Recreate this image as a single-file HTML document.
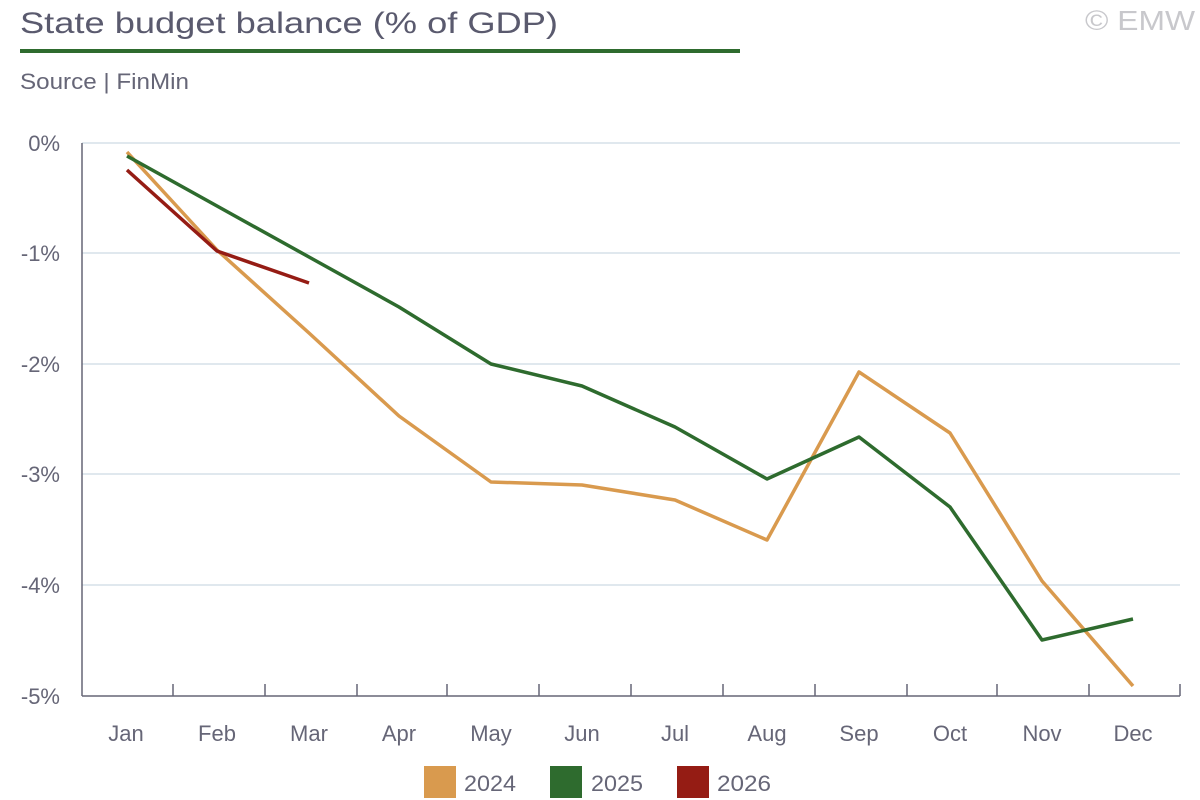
<!DOCTYPE html>
<html><head><meta charset="utf-8"><style>
body{margin:0;background:#fff;}
svg{display:block;font-family:"Liberation Sans",sans-serif;}
</style></head><body>
<svg width="1200" height="800" xmlns="http://www.w3.org/2000/svg">
<text x="20" y="33" font-size="30" fill="#5a5a6e" textLength="538" lengthAdjust="spacingAndGlyphs">State budget balance (% of GDP)</text>
<text x="1085" y="30" font-size="28" fill="#c8c8cc" textLength="110" lengthAdjust="spacingAndGlyphs">© EMW</text>
<rect x="20" y="49" width="720" height="4" fill="#2e6b2e"/>
<text x="20" y="89" font-size="22" fill="#666677" textLength="169" lengthAdjust="spacingAndGlyphs">Source | FinMin</text>
<g stroke="#d5e0e8" stroke-width="1.5">
<line x1="82" y1="143" x2="1180" y2="143"/>
<line x1="82" y1="253" x2="1180" y2="253"/>
<line x1="82" y1="364" x2="1180" y2="364"/>
<line x1="82" y1="474" x2="1180" y2="474"/>
<line x1="82" y1="585" x2="1180" y2="585"/>
</g>
<g stroke="#666677" stroke-width="1.5">
<line x1="82" y1="143" x2="82" y2="696"/>
<line x1="82" y1="696" x2="1180" y2="696"/>
<line x1="173" y1="684" x2="173" y2="696"/><line x1="265" y1="684" x2="265" y2="696"/><line x1="357" y1="684" x2="357" y2="696"/><line x1="447" y1="684" x2="447" y2="696"/><line x1="539" y1="684" x2="539" y2="696"/><line x1="631" y1="684" x2="631" y2="696"/><line x1="723" y1="684" x2="723" y2="696"/><line x1="815" y1="684" x2="815" y2="696"/><line x1="907" y1="684" x2="907" y2="696"/><line x1="997" y1="684" x2="997" y2="696"/><line x1="1089" y1="684" x2="1089" y2="696"/><line x1="1180" y1="684" x2="1180" y2="696"/>
</g>
<g font-size="22" fill="#666677" text-anchor="end">
<text x="60" y="151">0%</text><text x="60" y="261">-1%</text><text x="60" y="372">-2%</text><text x="60" y="482">-3%</text><text x="60" y="593">-4%</text><text x="60" y="704">-5%</text>
</g>
<g font-size="22" fill="#666677" text-anchor="middle">
<text x="126" y="741">Jan</text><text x="217" y="741">Feb</text><text x="309" y="741">Mar</text><text x="399" y="741">Apr</text><text x="491" y="741">May</text><text x="582" y="741">Jun</text><text x="675" y="741">Jul</text><text x="767" y="741">Aug</text><text x="859" y="741">Sep</text><text x="950" y="741">Oct</text><text x="1042" y="741">Nov</text><text x="1133" y="741">Dec</text>
</g>
<g fill="none" stroke-width="3.5" stroke-linejoin="round">
<polyline stroke="#d99a4e" points="127,152 217,250 309,333 399,416 491,482 582,485 675,500 767,540 859,372 950,433 1042,581 1133,686"/>
<polyline stroke="#2e6b2e" points="127,156 217,206 309,257 399,307 491,364 582,386 675,427 767,479 859,437 950,507 1042,640 1133,619"/>
<polyline stroke="#951c14" points="127,170 217,251 309,283"/>
</g>
<rect x="424" y="766" width="32" height="32" fill="#d99a4e"/>
<text x="464" y="791" font-size="22" fill="#666677" textLength="52" lengthAdjust="spacingAndGlyphs">2024</text>
<rect x="550" y="766" width="32" height="32" fill="#2e6b2e"/>
<text x="591" y="791" font-size="22" fill="#666677" textLength="52" lengthAdjust="spacingAndGlyphs">2025</text>
<rect x="677" y="766" width="32" height="32" fill="#951c14"/>
<text x="717" y="791" font-size="22" fill="#666677" textLength="54" lengthAdjust="spacingAndGlyphs">2026</text>
</svg>
</body></html>
